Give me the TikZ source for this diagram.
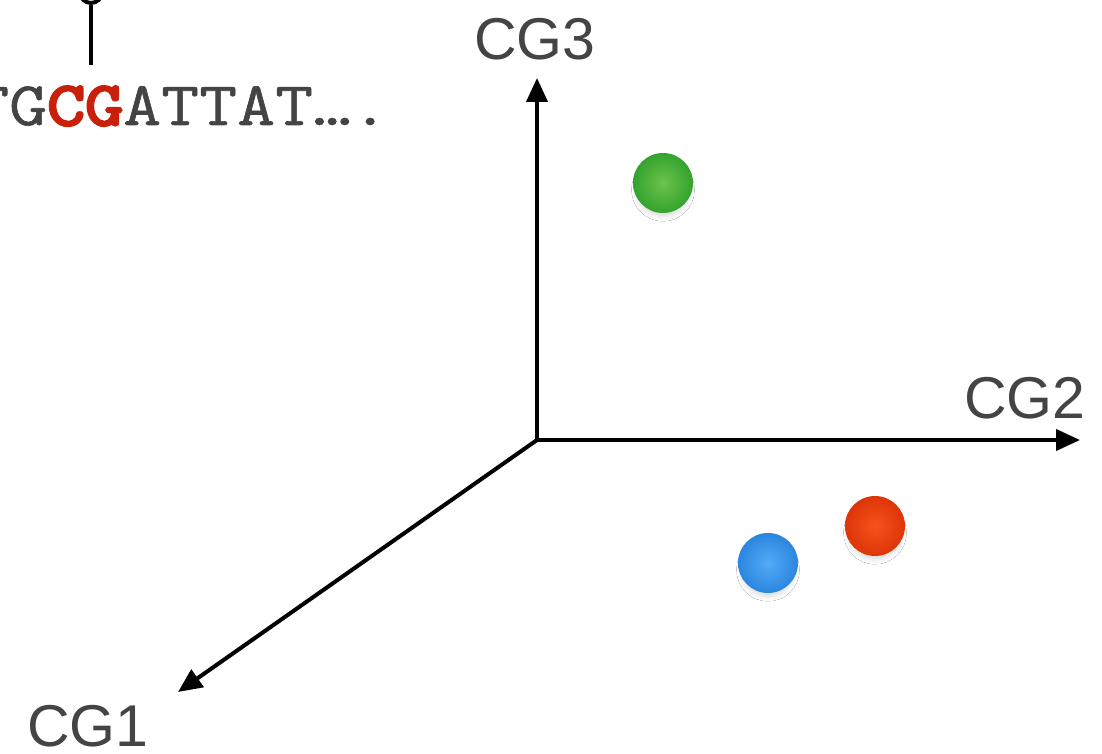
\documentclass[tikz,border=0pt]{standalone}
\usepackage{fontspec}
\setmainfont{Liberation Sans}
\newfontfamily\seqfont[FakeStretch=1.19,FakeBold=1]{Latin Modern Mono}
\newfontfamily\seqbold[FakeStretch=1.19,FakeBold=4.5]{Latin Modern Mono}
\usetikzlibrary{arrows.meta,shadows.blur}
\definecolor{labelgray}{HTML}{444444}
\definecolor{cpgred}{HTML}{C8200A}
\definecolor{gdark}{HTML}{33A32E}
\definecolor{glight}{HTML}{6CC24A}
\definecolor{rdark}{HTML}{DD3508}
\definecolor{rlight}{HTML}{F7521C}
\definecolor{bdark}{HTML}{2A86DE}
\definecolor{blight}{HTML}{55AAF7}
\tikzset{
  axis/.style={line width=4pt,-{Triangle[length=24pt,width=21pt]}},
  axislabel/.style={text=labelgray,font=\fontsize{59}{63}\selectfont,inner sep=0pt},
  ball/.style 2 args={circle,minimum size=60pt,inner sep=0pt,
    shading=radial,inner color=#2,outer color=#1,
    blur shadow={shadow xshift=0pt,shadow yshift=-8pt,shadow scale=0.85,
      shadow blur radius=7pt,shadow blur steps=10,shadow opacity=18}},
}
\begin{document}
\begin{tikzpicture}[x=1pt,y=-1pt]
\useasboundingbox[fill=white] (0,0) rectangle (1102,754);
% methylation pin over the sequence
\node[circle,draw,line width=4pt,fill=white,minimum size=22pt,inner sep=0pt] (pin) at (91,-8) {};
\coordinate (pinfoot) at (91,65);
\draw[line width=4pt] (pin.south) -- (pinfoot);
\node[anchor=base west,inner sep=0pt,text=labelgray,font=\seqfont\fontsize{62}{66}\selectfont] (seq) at (-29,125)
  {TG{\seqbold\color{cpgred}CG}ATTAT….};
% axes
\coordinate (o) at (537,440);
\coordinate (z) at (537,78);
\coordinate (y) at (1080,440);
\coordinate (x) at (178,692);
\draw[axis] (o) -- (z);
\draw[axis] (o) -- (y);
\draw[axis] (o) -- (x);
\node[axislabel] (l3) at (535,39) {CG3};
\node[axislabel] (l2) at (1025,398) {CG2};
\node[axislabel] (l1) at (88,726) {CG1};
% samples
\node[ball={gdark}{glight}] (g) at (663,183) {};
\node[ball={rdark}{rlight}] (r) at (875,526) {};
\node[ball={bdark}{blight}] (b) at (768,563) {};
\end{tikzpicture}
\end{document}
